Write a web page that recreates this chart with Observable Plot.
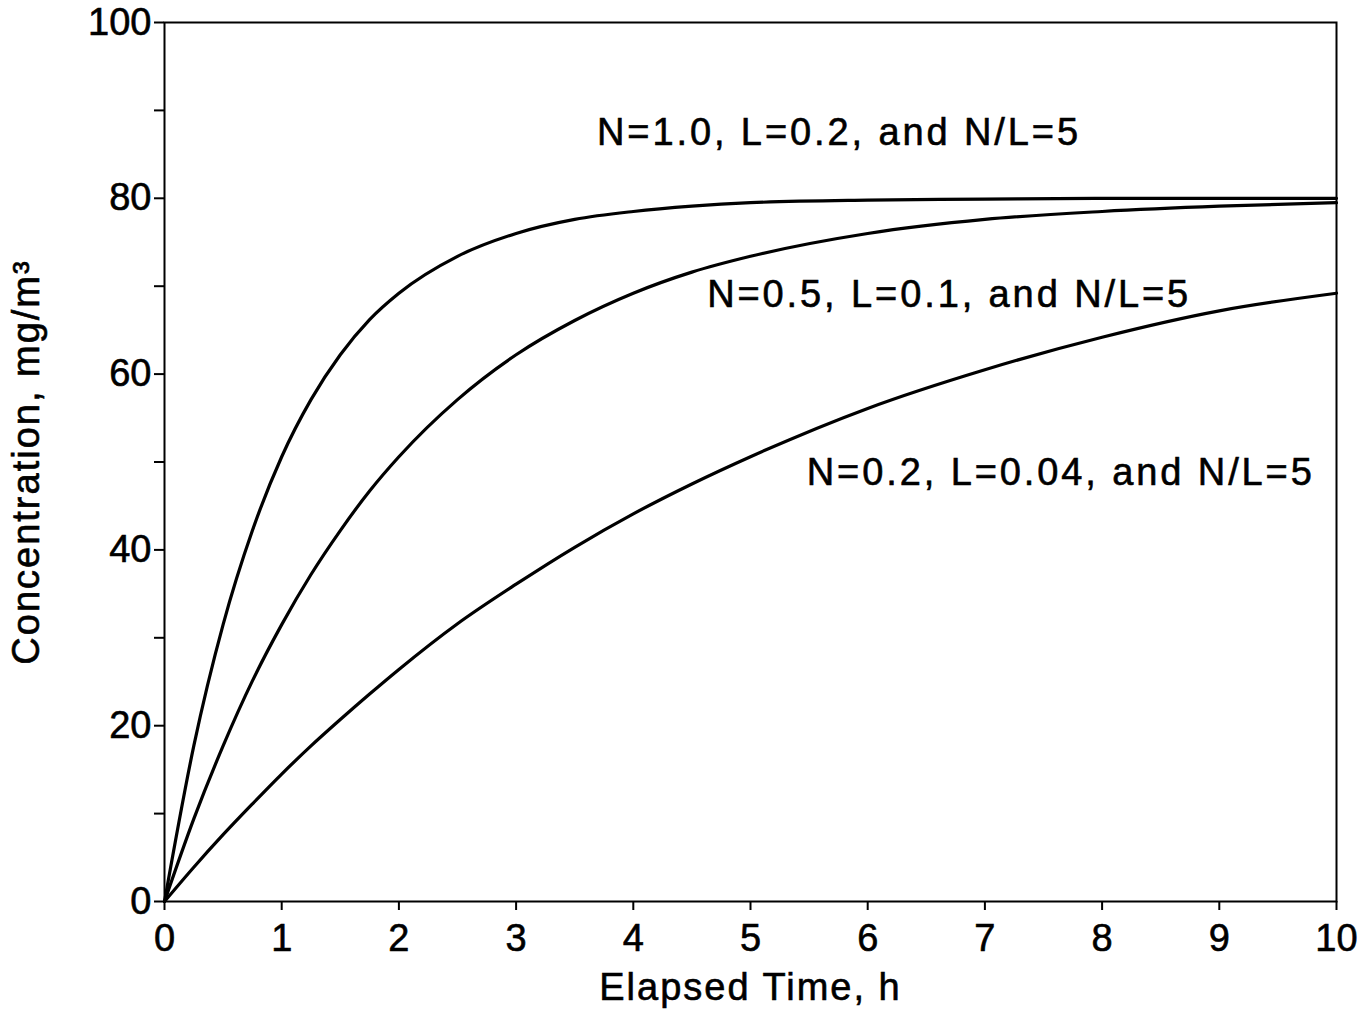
<!DOCTYPE html>
<html>
<head>
<meta charset="utf-8">
<script src="https://cdn.jsdelivr.net/npm/d3@7"></script>
<script src="https://cdn.jsdelivr.net/npm/@observablehq/plot@0.6"></script>
<style>
  html, body { margin: 0; padding: 0; background: #fff; }
  #chart svg { display: block; }
  #chart svg text { stroke: #000; stroke-width: 0.6px; }
  #chart [aria-label="x-axis label"] text,
  #chart [aria-label="y-axis label"] text { letter-spacing: 2px; }
  #chart [aria-label="text"] text { letter-spacing: 2.9px; }
</style>
</head>
<body>
<div id="chart"></div>
<script>
// Elapsed time, h
const times = [0, 0.25, 0.5, 0.75, 1, 1.25, 1.5, 1.75, 2, 2.5, 3, 3.5, 4, 4.5, 5, 6, 7, 8, 9, 10];
// Concentration, mg/m3
const seriesN10 = [0, 17.7, 31.5, 42.2, 50.6, 57.1, 62.2, 66.2, 69.2, 73.4, 76.0, 77.6, 78.5, 79.1, 79.5, 79.8, 79.9, 80, 80, 80];
const seriesN05 = [0, 9.4, 17.7, 25.1, 31.5, 37.2, 42.2, 46.7, 50.6, 57.1, 62.2, 66.1, 69.2, 71.6, 73.4, 76.0, 77.6, 78.5, 79.1, 79.5];
const seriesN02 = [0, 3.9, 7.6, 11.1, 14.5, 17.7, 20.7, 23.6, 26.4, 31.6, 36.1, 40.3, 44.1, 47.5, 50.6, 56.1, 60.5, 64.2, 67.2, 69.2];
const seriesNames = ["N=1.0, L=0.2, and N/L=5", "N=0.5, L=0.1, and N/L=5", "N=0.2, L=0.04, and N/L=5"];
const labelX = [3.69, 4.63, 5.48];
const labelY = [87.4, 69.0, 48.8];
const xTicks = [0, 1, 2, 3, 4, 5, 6, 7, 8, 9, 10];
const yTicks = [0, 10, 20, 30, 40, 50, 60, 70, 80, 90, 100];
const yLabelled = [0, 20, 40, 60, 80, 100];

const allSeries = [seriesN10, seriesN05, seriesN02];
const rows = allSeries.flatMap((vals, i) => vals.map((v, j) => ({t: times[j], c: v, s: seriesNames[i]})));
const labels = seriesNames.map((n, i) => ({x: labelX[i], y: labelY[i], text: n}));

const chart = Plot.plot({
  width: 1367,
  height: 1014,
  marginLeft: 164,
  marginRight: 31,
  marginTop: 22,
  marginBottom: 113,
  style: {fontFamily: "'Liberation Sans', Arial, Helvetica, sans-serif", fontSize: "38px", color: "#000", background: "#fff"},
  x: {domain: [0, 10]},
  y: {domain: [0, 100]},
  marks: [
    Plot.frame({stroke: "#000", strokeWidth: 2}),
    Plot.axisX({ticks: xTicks, tickSize: 9, tickPadding: 14, tickFormat: d => String(d), strokeWidth: 2,
      label: "Elapsed Time, h", labelAnchor: "center", labelArrow: "none", labelOffset: 98, fontSize: 38}),
    Plot.axisY({ticks: yTicks, tickSize: 10, tickPadding: 3, strokeWidth: 2,
      tickFormat: d => yLabelled.includes(d) ? String(d) : "",
      label: "Concentration, mg/m³", labelAnchor: "center", labelArrow: "none", labelOffset: 152, fontSize: 38}),
    Plot.line(rows, {x: "t", y: "c", z: "s", stroke: "#000", strokeWidth: 3.2, curve: "monotone-x"}),
    Plot.text(labels, {x: "x", y: "y", text: "text", textAnchor: "start", lineAnchor: "middle", fontSize: 38, fill: "#000"})
  ]
});
document.getElementById("chart").appendChild(chart);
</script>
</body>
</html>
